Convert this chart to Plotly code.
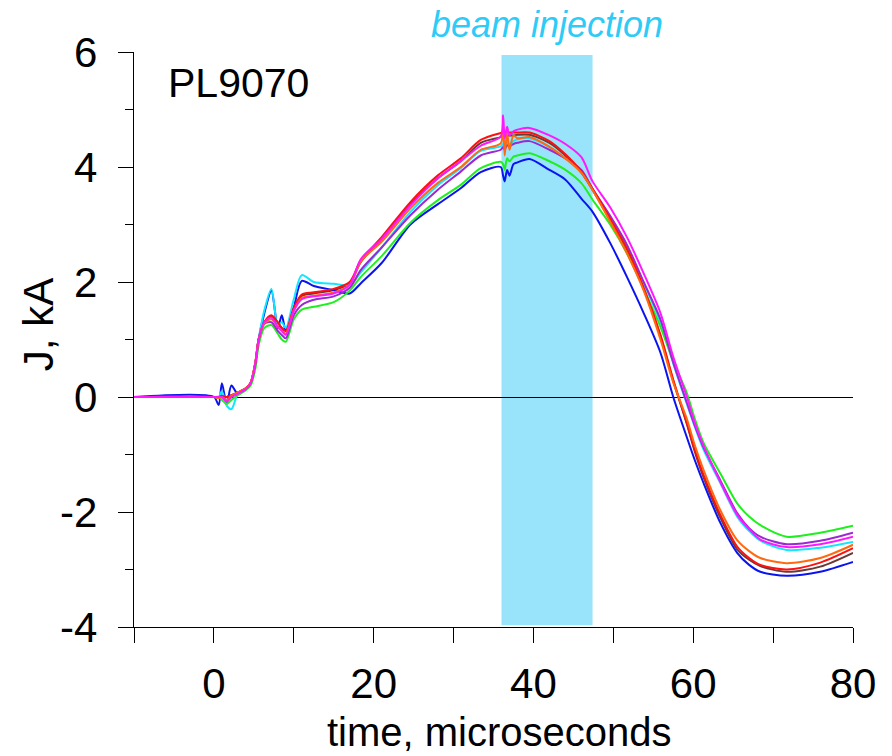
import plotly.graph_objects as go

T = [-10, 0, 0.6, 1.0, 1.6, 2.2, 3, 4, 4.6, 5.2, 5.6, 6.3, 7.2, 8.0, 8.5, 9.0, 10.0, 11.0, 12.5, 15, 17, 18.4,
     21, 24.6, 28, 30.9, 33.4, 35.9, 36.2, 36.4, 36.7, 37.0, 37.5, 38, 39.5, 42, 44, 46, 47.4, 49.6, 51.7,
     53.8, 55.9, 57.5, 59.2, 60.2, 61.3, 63.4, 65.5, 67.0, 68.4, 71.7, 75.9, 80]

BROWN = [0, 0, 0.0, 0.02, 0.0, 0.03, 0.08, 0.15, 0.25, 0.6, 1.0, 1.3, 1.4, 1.28, 1.2, 1.15, 1.55, 1.76, 1.8, 1.86, 1.98, 2.35,
         2.75, 3.35, 3.8, 4.1, 4.42, 4.52, 4.55, 4.55, 4.55, 4.55, 4.55, 4.56, 4.56, 4.42, 4.2, 3.9, 3.6, 3.08, 2.55,
         1.88, 1.05, 0.28, -0.47, -0.95, -1.4, -2.1, -2.65, -2.83, -2.94, -3.04, -2.95, -2.71]
BLUE = [0, 0, -0.14, 0.24, -0.12, 0.2, 0.05, 0.15, 0.24, 0.6, 1.0, 1.45, 1.85, 1.2, 1.42, 1.15, 1.55, 2.02, 1.93, 1.86, 1.8, 1.98,
        2.33, 3.0, 3.35, 3.63, 3.91, 4.0, 3.85, 3.75, 3.95, 3.85, 4.05, 4.08, 4.14, 3.95, 3.78, 3.45, 3.22, 2.68, 2.09,
        1.46, 0.77, 0.0, -0.7, -1.1, -1.5, -2.19, -2.71, -2.92, -3.04, -3.11, -3.04, -2.87]
CYAN = [0, 0, 0.0, 0.1, -0.15, -0.21, 0.05, 0.14, 0.24, 0.6, 1.0, 1.5, 1.88, 1.25, 1.3, 1.2, 1.7, 2.12, 2.0, 1.97, 1.95, 2.17,
        2.6, 3.22, 3.68, 3.98, 4.28, 4.36, 4.4, 4.35, 4.42, 4.4, 4.45, 4.48, 4.5, 4.35, 4.15, 3.92, 3.6, 3.12, 2.6,
        1.98, 1.3, 0.58, -0.12, -0.52, -0.92, -1.5, -2.08, -2.33, -2.5, -2.66, -2.62, -2.52]
GREEN = [0, 0, 0.0, -0.05, -0.12, -0.05, 0.03, 0.12, 0.2, 0.5, 0.9, 1.2, 1.25, 1.1, 1.0, 0.96, 1.35, 1.52, 1.57, 1.65, 1.85, 2.09,
         2.45, 3.03, 3.42, 3.69, 3.98, 4.09, 4.05, 3.95, 4.15, 4.1, 4.18, 4.2, 4.24, 4.1, 3.95, 3.72, 3.43, 3.0, 2.5,
         1.88, 1.22, 0.62, 0.07, -0.38, -0.8, -1.33, -1.85, -2.08, -2.23, -2.43, -2.36, -2.24]
PURPLE = [0, 0, 0.0, 0.0, -0.05, 0.0, 0.06, 0.14, 0.24, 0.58, 0.98, 1.27, 1.3, 1.15, 1.08, 1.02, 1.42, 1.6, 1.69, 1.75, 1.9, 2.21,
          2.6, 3.16, 3.6, 3.92, 4.2, 4.3, 4.35, 4.3, 4.38, 4.36, 4.4, 4.42, 4.45, 4.3, 4.15, 3.95, 3.62, 3.15, 2.65,
          2.0, 1.35, 0.6, -0.1, -0.5, -0.88, -1.45, -2.02, -2.28, -2.43, -2.56, -2.5, -2.36]
RED = [0, 0, 0.0, 0.02, 0.0, 0.03, 0.08, 0.15, 0.25, 0.6, 1.0, 1.3, 1.42, 1.3, 1.2, 1.15, 1.55, 1.78, 1.82, 1.88, 2.0, 2.38,
       2.78, 3.39, 3.85, 4.15, 4.47, 4.59, 4.6, 4.6, 4.6, 4.6, 4.6, 4.6, 4.6, 4.45, 4.22, 3.92, 3.62, 3.1, 2.58,
       1.9, 1.08, 0.3, -0.45, -0.92, -1.36, -2.05, -2.6, -2.8, -2.92, -3.0, -2.88, -2.63]
ORANGE = [0, 0, -0.02, 0.0, -0.05, 0.02, 0.08, 0.15, 0.25, 0.62, 1.0, 1.28, 1.35, 1.22, 1.15, 1.1, 1.5, 1.72, 1.76, 1.82, 1.95, 2.36,
          2.7, 3.28, 3.72, 4.0, 4.3, 4.41, 4.75, 4.2, 4.6, 4.3, 4.55, 4.5, 4.52, 4.35, 4.15, 3.9, 3.6, 3.05, 2.5,
          1.85, 1.0, 0.25, -0.38, -0.84, -1.27, -1.97, -2.49, -2.68, -2.8, -2.89, -2.8, -2.57]
MAGENTA = [0, 0, 0.0, 0.0, -0.08, 0.0, 0.06, 0.14, 0.24, 0.6, 1.0, 1.3, 1.38, 1.22, 1.15, 1.08, 1.5, 1.7, 1.75, 1.8, 1.95, 2.4,
           2.75, 3.33, 3.8, 4.1, 4.37, 4.53, 4.9, 4.5, 4.7, 4.55, 4.62, 4.65, 4.68, 4.55, 4.4, 4.17, 3.75, 3.3, 2.78,
           2.15, 1.46, 0.7, 0.0, -0.45, -0.85, -1.48, -2.05, -2.3, -2.48, -2.61, -2.56, -2.43]

SERIES = [
    ("brown", BROWN, "#6b3a35"),
    ("blue", BLUE, "#0a14f0"),
    ("cyan", CYAN, "#14e6ff"),
    ("green", GREEN, "#1ef01e"),
    ("purple", PURPLE, "#9b28d2"),
    ("red", RED, "#ff1010"),
    ("orange", ORANGE, "#ff6a10"),
    ("magenta", MAGENTA, "#ff18ff"),
]

BEAM = (36.0, 47.4)
Y_TICKS = [-4, -2, 0, 2, 4, 6]
Y_LABELS = ["-4", "-2", "0", "2", "4", "6"]
Y_MINOR = [-3, -1, 1, 3, 5]

fig = go.Figure()
for name, ys, col in SERIES:
    fig.add_trace(go.Scatter(x=T, y=ys, mode="lines", name=name,
                             line=dict(color=col, width=2, shape="spline", smoothing=0.8),
                             showlegend=False, hoverinfo="skip"))

fig.add_shape(type="rect", xref="x", yref="y", x0=BEAM[0], x1=BEAM[1], y0=-3.97, y1=5.95,
              fillcolor="#9ae4fb", line=dict(width=0), layer="below")

font = "Liberation Sans, Arial, sans-serif"
fig.update_layout(
    width=892, height=756,
    margin=dict(l=134, r=39, t=52, b=129),
    paper_bgcolor="white", plot_bgcolor="white",
    font=dict(family=font, color="black"),
    xaxis=dict(range=[-10, 80], dtick=20, tick0=0, ticks="outside", ticklen=15, tickwidth=1.3,
               tickcolor="black", showline=True, linecolor="black", linewidth=1.3,
               showgrid=False, zeroline=False, tickfont=dict(size=42), ticklabelstandoff=4,
               minor=dict(dtick=10, tick0=0, ticks="outside", ticklen=15, tickwidth=1.3, tickcolor="black")),
    yaxis=dict(range=[-4, 6], tickmode="array", tickvals=Y_TICKS, ticktext=Y_LABELS,
               ticks="outside", ticklen=15, tickwidth=1.3,
               tickcolor="black", showline=True, linecolor="black", linewidth=1.3,
               showgrid=False, zeroline=True, zerolinecolor="black", zerolinewidth=1.3,
               tickfont=dict(size=42), ticklabelstandoff=12,
               minor=dict(tickmode="array", tickvals=Y_MINOR, ticks="outside", ticklen=8, tickwidth=1.3,
                          tickcolor="black", showgrid=False)),
)

fig.add_annotation(text="beam injection", xref="x", yref="paper", x=41.7, y=1.047,
                   showarrow=False, xanchor="center", yanchor="middle",
                   font=dict(size=36, color="#2ecbf7", family=font, style="italic"))
fig.add_annotation(text="PL9070", xref="paper", yref="paper", x=0.045, y=0.946,
                   showarrow=False, xanchor="left", yanchor="middle", font=dict(size=41, family=font))
fig.add_annotation(text="J, kA", xref="paper", yref="paper", x=-0.1335, y=0.525, textangle=-90,
                   showarrow=False, xanchor="center", yanchor="middle", font=dict(size=42, family=font))
fig.add_annotation(text="time, microseconds", xref="paper", yref="paper", x=0.509, y=-0.2245,
                   showarrow=False, xanchor="center", yanchor="bottom", font=dict(size=40, family=font))

fig.write_html("out.html")
